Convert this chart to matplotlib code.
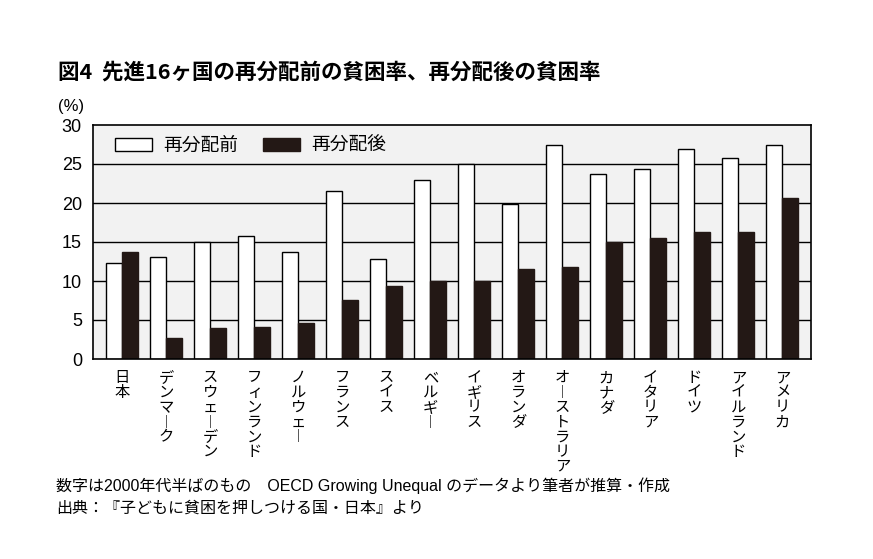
import matplotlib
matplotlib.use('Agg')
import matplotlib.pyplot as plt
import matplotlib.patches as mpatches
import numpy as np

plt.rcParams['font.family'] = ['Noto Sans CJK JP', 'DejaVu Sans']

# データ
countries = ['日本', 'デンマーク', 'スウェーデン', 'フィンランド', 'ノルウェー', 'フランス',
             'スイス', 'ベルギー', 'イギリス', 'オランダ', 'オーストラリア', 'カナダ',
             'イタリア', 'ドイツ', 'アイルランド', 'アメリカ']
before = [12.3, 13.1, 15.0, 15.8, 13.7, 21.6, 12.8, 23.0, 25.0, 19.9, 27.4, 23.7,
          24.4, 26.9, 25.8, 27.5]
after = [13.7, 2.7, 4.0, 4.1, 4.6, 7.6, 9.4, 10.0, 10.0, 11.6, 11.8, 15.0,
         15.5, 16.3, 16.3, 20.6]
yticks = [0, 5, 10, 15, 20, 25, 30]

title = '図4  先進16ヶ国の再分配前の貧困率、再分配後の貧困率'
note1 = '数字は2000年代半ばのもの　OECD Growing Unequal のデータより筆者が推算・作成'
note2 = '出典：『子どもに貧困を押しつける国・日本』より'

dark = '#231815'
bg = '#f2f2f2'
latin = ['Liberation Sans', 'DejaVu Sans']
mixed = ['Liberation Sans', 'Noto Sans CJK JP', 'DejaVu Sans']

fig = plt.figure(figsize=(8.73, 5.59), dpi=100)
ax = fig.add_axes([93 / 873, 1 - 359 / 559, 718 / 873, 234 / 559])
ax.set_facecolor(bg)

x = np.arange(len(countries))
w = 0.364
ax.bar(x - w / 2, before, width=w, color='white', edgecolor='black', linewidth=1.0, zorder=3)
ax.bar(x + w / 2, after, width=w, color=dark, edgecolor=dark, linewidth=1.0, zorder=3)

ax.set_ylim(0, 30)
ax.set_xlim(-0.665, 15.65)
ax.set_yticks(yticks)
ax.set_yticklabels([str(t) for t in yticks], family=latin, fontsize=13)
ax.tick_params(axis='y', length=0, pad=8)
ax.set_xticks([])
for v in yticks[1:-1]:
    ax.axhline(v, color='black', linewidth=1.0, zorder=1)
for s in ax.spines.values():
    s.set_linewidth(1.2)
    s.set_color('black')
    s.set_zorder(4)

# 縦書きの国名
for i, name in enumerate(countries):
    vert = '\n'.join(name.replace('ー', '︱'))
    ax.text(i, -1.3, vert, ha='center', va='top', fontsize=11, linespacing=0.83)

# 凡例
h1 = mpatches.Patch(facecolor='white', edgecolor='black', linewidth=1.0)
h2 = mpatches.Patch(facecolor=dark, edgecolor=dark)
ax.legend([h1, h2], ['再分配前', '再分配後'], loc='upper left', ncol=2, frameon=False,
          fontsize=13.5, handlelength=2.0, handleheight=0.7, handletextpad=0.6,
          columnspacing=1.3, bbox_to_anchor=(0.0, 1.05), borderaxespad=0.75)

fig.text(58 / 873, 1 - 72 / 559, title, fontsize=15.5, fontweight='bold', va='center', ha='left')
fig.text(58 / 873, 1 - 106 / 559, '(%)', fontsize=12, va='center', ha='left', family=latin)
fig.text(56 / 873, 1 - 486 / 559, note1, fontsize=11.5, va='center', ha='left', family=mixed)
fig.text(56 / 873, 1 - 508 / 559, note2, fontsize=11.5, va='center', ha='left', family=mixed)

fig.savefig('out.png', dpi=100)
